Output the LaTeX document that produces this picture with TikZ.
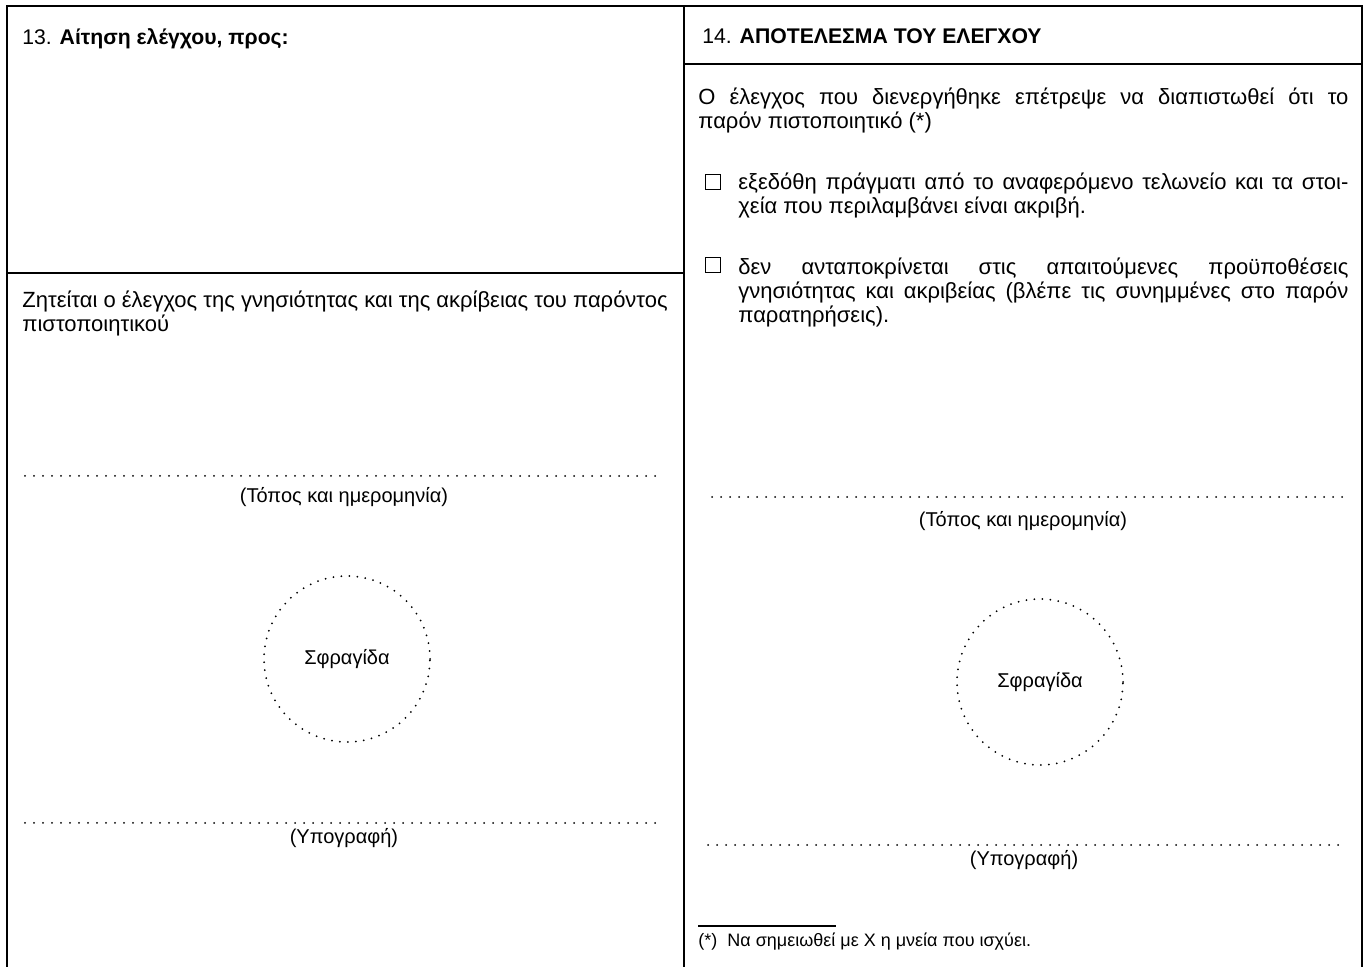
\documentclass[tikz,border=0pt]{standalone}
\usepackage{fontspec}
\setmainfont{Liberation Sans}
\tikzset{
 frame/.style={line width=1pt},
 dotline/.style={line width=1pt,line cap=round,dash pattern=on 0pt off 4.5pt},
 txt/.style={anchor=base west,inner sep=0pt,font=\fontsize{11}{12}\selectfont},
 head/.style={anchor=base west,inner sep=0pt,font=\fontsize{10.6}{12}\selectfont},
 lbl/.style={anchor=base,inner sep=0pt,font=\fontsize{10}{12}\selectfont},
 seal/.style={circle,minimum size=83pt,inner sep=0pt,line width=1pt,line cap=round,
   dash pattern=on 0pt off 4pt,draw,font=\fontsize{10}{12}\selectfont},
 tick/.style={draw,line width=0.6pt,minimum size=7.5pt,inner sep=0pt}
}
\newcommand{\jline}[2]{\makebox[#1][s]{#2}}
\begin{document}
\begin{tikzpicture}[x=0.5pt,y=-0.5pt]
 \useasboundingbox (0,0) rectangle (1367,967);
 % frame
 \coordinate (tl) at (7,6); \coordinate (tr) at (1362,6);
 \coordinate (bl) at (7,967); \coordinate (br) at (1362,967);
 \coordinate (mt) at (684,6); \coordinate (mb) at (684,967);
 \coordinate (ml) at (7,273); \coordinate (mm) at (684,273);
 \coordinate (rm) at (684,64); \coordinate (rr) at (1362,64);
 \draw[frame] (bl) -- (tl) -- (tr) -- (br);
 \draw[frame] (mt) -- (mb);
 \draw[frame] (ml) -- (mm);
 \draw[frame] (rm) -- (rr);
 % box 13
 \node[head] (h13) at (22,45) {13. \textbf{Αίτηση ελέγχου, προς:}};
 \node[txt] (req1) at (22,308) {Ζητείται ο έλεγχος της γνησιότητας και της ακρίβειας του παρόντος};
 \node[txt] (req2) at (22,332) {πιστοποιητικού};
 \coordinate (lp1) at (25,476); \coordinate (lp2) at (663,476);
 \draw[dotline] (lp1) -- (lp2);
 \node[lbl] (lplace) at (344,503) {(Τόπος και ημερομηνία)};
 \node[seal] (lseal) at (347,659) {Σφραγίδα};
 \coordinate (ls1) at (25,823); \coordinate (ls2) at (663,823);
 \draw[dotline] (ls1) -- (ls2);
 \node[lbl] (lsign) at (344,844) {(Υπογραφή)};
 % box 14
 \node[head] (h14) at (702,44) {14. \textbf{ΑΠΟΤΕΛΕΣΜΑ ΤΟΥ ΕΛΕΓΧΟΥ}};
 \node[txt] (res1) at (698,105) {\jline{325pt}{Ο έλεγχος που διενεργήθηκε επέτρεψε να διαπιστωθεί ότι το}};
 \node[txt] (res2) at (698,129) {παρόν πιστοποιητικό (*)};
 \node[tick] (box1) at (713,182) {};
 \node[txt] (opa1) at (738,190) {\jline{305pt}{εξεδόθη πράγματι από το αναφερόμενο τελωνείο και τα στοι-}};
 \node[txt] (opa2) at (738,214) {χεία που περιλαμβάνει είναι ακριβή.};
 \node[tick] (box2) at (713,265) {};
 \node[txt] (opb1) at (738,275) {\jline{305pt}{δεν ανταποκρίνεται στις απαιτούμενες προϋποθέσεις}};
 \node[txt] (opb2) at (738,299) {\jline{305pt}{γνησιότητας και ακριβείας (βλέπε τις συνημμένες στο παρόν}};
 \node[txt] (opb3) at (738,323) {παρατηρήσεις).};
 \coordinate (rp1) at (712,497); \coordinate (rp2) at (1343,497);
 \draw[dotline] (rp1) -- (rp2);
 \node[lbl] (rplace) at (1023,527) {(Τόπος και ημερομηνία)};
 \node[seal] (rseal) at (1040,682) {Σφραγίδα};
 \coordinate (rs1) at (708,845); \coordinate (rs2) at (1343,845);
 \draw[dotline] (rs1) -- (rs2);
 \node[lbl] (rsign) at (1024,866) {(Υπογραφή)};
 % footnote
 \coordinate (fn1) at (698,926); \coordinate (fn2) at (836,926);
 \draw[line width=0.8pt] (fn1) -- (fn2);
 \node[txt,font=\fontsize{9}{12}\selectfont] (note) at (698,947) {(*)\hspace{5pt}Να σημειωθεί με Χ η μνεία που ισχύει.};
\end{tikzpicture}
\end{document}
